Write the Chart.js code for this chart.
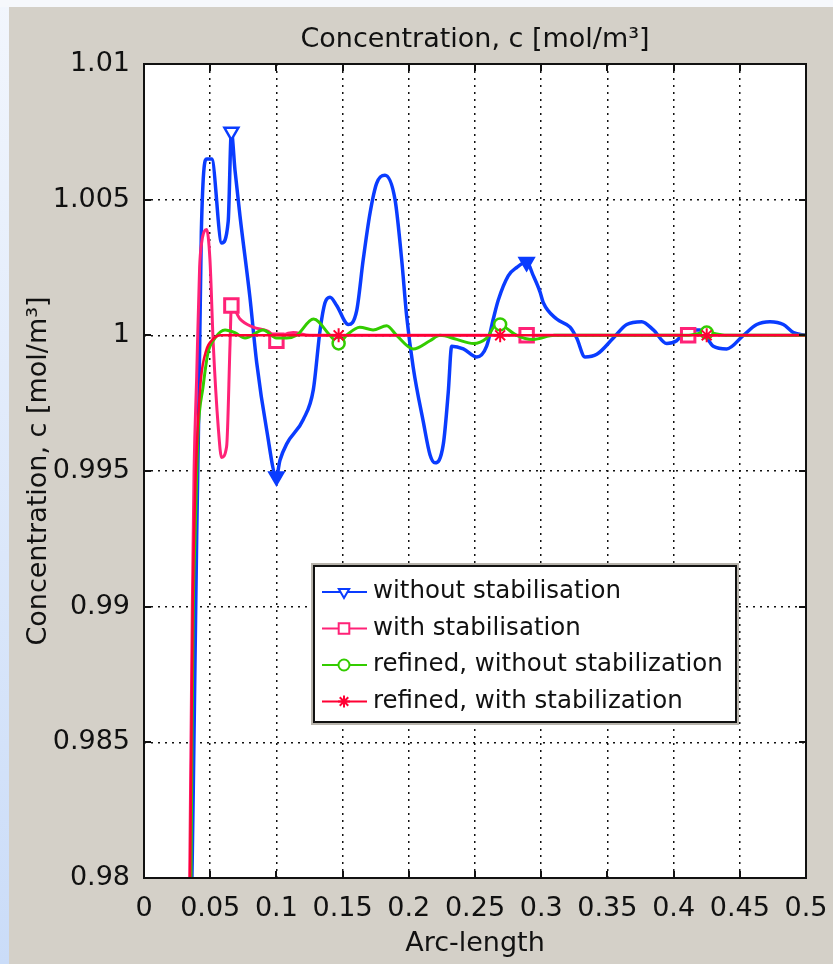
<!DOCTYPE html>
<html>
<head>
<meta charset="utf-8">
<script src="https://cdn.jsdelivr.net/npm/chart.js@4.4.1/dist/chart.umd.min.js"></script>
<style>
  html, body { margin: 0; padding: 0; background: #d4d0c8; }
  canvas { display: block; }
</style>
</head>
<body>
<canvas id="chart" width="833" height="964"></canvas>
<script>
// tick labels
const xTickLabels = ['0', '0.05', '0.1', '0.15', '0.2', '0.25', '0.3', '0.35', '0.4', '0.45', '0.5'];
const yTickLabels = ['0.98', '0.985', '0.99', '0.995', '1', '1.005', '1.01'];

// series names
const seriesNames = ['without stabilisation', 'with stabilisation', 'refined, without stabilization', 'refined, with stabilization'];

// without stabilisation
const blueX = [0.0362, 0.0372, 0.0385, 0.0398, 0.0415, 0.0433, 0.0474, 0.0511, 0.0587, 0.0636, 0.066, 0.0687, 0.0725, 0.080, 0.0851, 0.0927, 0.1, 0.1027, 0.1078, 0.1203, 0.1279, 0.133, 0.1367, 0.1405, 0.1455, 0.1543, 0.1606, 0.1656, 0.1707, 0.1757, 0.182, 0.1896, 0.1946, 0.1984, 0.2034, 0.211, 0.216, 0.2198, 0.2261, 0.2298, 0.2324, 0.2412, 0.2513, 0.2588, 0.2638, 0.2676, 0.2752, 0.2815, 0.289, 0.294, 0.2991, 0.3016, 0.3117, 0.3218, 0.3268, 0.3331, 0.342, 0.3545, 0.3646, 0.3759, 0.3847, 0.3948, 0.4023, 0.4099, 0.42, 0.43, 0.4401, 0.4527, 0.4628, 0.4728, 0.4829, 0.4905, 0.5];
const blueY = [0.980, 0.9832, 0.9879, 0.9926, 0.9976, 1.0038, 1.0065, 1.0065, 1.0034, 1.0042, 1.0075, 1.0061, 1.0044, 1.0014, 0.9990, 0.9965, 0.9948, 0.9954, 0.9960, 0.9969, 0.9980, 1.0002, 1.0012, 1.0014, 1.0011, 1.0004, 1.0009, 1.0028, 1.0045, 1.0056, 1.0059, 1.0050, 1.0028, 1.0007, 0.9988, 0.9968, 0.9956, 0.9953, 0.9960, 0.9979, 0.9996, 0.9995, 0.9992, 0.9996, 1.0006, 1.0013, 1.0022, 1.0025, 1.0027, 1.0022, 1.0016, 1.0012, 1.0006, 1.0003, 0.9999, 0.9992, 0.9993, 0.9999, 1.0004, 1.0005, 1.0002, 0.9997, 0.9998, 1.0002, 1.0002, 0.9996, 0.9995, 1.0, 1.0004, 1.0005, 1.0004, 1.0001, 1.0];
const blueMarks = [0.066, 0.1, 0.289];

// with stabilisation
const pinkX = [0.0345, 0.0355, 0.0365, 0.0378, 0.0398, 0.042, 0.0435, 0.0473, 0.0498, 0.0523, 0.0561, 0.0586, 0.0624, 0.065, 0.066, 0.0725, 0.0824, 0.0952, 0.1, 0.105, 0.1127, 0.125, 0.289, 0.411, 0.5];
const pinkY = [0.980, 0.985, 0.990, 0.995, 0.9985, 1.0025, 1.0034, 1.0039, 1.0028, 0.9997, 0.9966, 0.9955, 0.9959, 0.9997, 1.0011, 1.0006, 1.0003, 1.0001, 0.9998, 1.0, 1.0001, 1.0, 1.0, 1.0, 1.0];
const pinkMarks = [0.066, 0.1, 0.289, 0.411];

// refined, without stabilization
const greenX = [0.0355, 0.0362, 0.0372, 0.0385, 0.0398, 0.0408, 0.0446, 0.0483, 0.0536, 0.0612, 0.0687, 0.0763, 0.09, 0.1, 0.1078, 0.1153, 0.128, 0.1405, 0.147, 0.153, 0.163, 0.173, 0.1833, 0.1908, 0.2034, 0.216, 0.2236, 0.2362, 0.2487, 0.2588, 0.2664, 0.269, 0.2727, 0.2815, 0.294, 0.31, 0.41, 0.425, 0.44, 0.5];
const greenY = [0.980, 0.985, 0.990, 0.9925, 0.9948, 0.9964, 0.9981, 0.99935, 0.9999, 1.0002, 1.0001, 0.9999, 1.0002, 0.9999, 0.9999, 1.0, 1.0006, 1.0, 0.9997, 1.0, 1.0003, 1.0002, 1.00035, 1.0, 0.9995, 0.9998, 1.0, 0.99985, 0.9997, 0.9999, 1.0004, 1.0004, 1.0003, 1.0, 0.99985, 1.0, 1.0, 1.0001, 1.0, 1.0];
const greenMarks = [0.147, 0.269, 0.425];

// refined, with stabilization
const redX = [0.0348, 0.0358, 0.0368, 0.0385, 0.0405, 0.043, 0.047, 0.052, 0.058, 0.147, 0.269, 0.425, 0.5];
const redY = [0.980, 0.985, 0.990, 0.994, 0.9965, 0.9984, 0.99945, 0.99985, 1.0, 1.0, 1.0, 1.0, 1.0];
const redMarks = [0.147, 0.269, 0.425];

const FONT = 'DejaVu Sans';
const BLUE = '#0a3cff', PINK = '#ff2277', GREEN = '#33cc00', RED = '#ff0033';

const toPoints = (xs, ys) => xs.map((x, i) => ({ x: x, y: ys[i] }));
const markRadius = (marks, r) => ctx => (ctx.raw && marks.includes(ctx.raw.x)) ? r : 0;

const datasets = [
  {
    label: seriesNames[0], data: toPoints(blueX, blueY), borderColor: BLUE, borderWidth: 3.5,
    pointStyle: 'triangle', rotation: 180, pointRadius: markRadius(blueMarks, 8),
    pointBorderColor: BLUE, pointBorderWidth: 2.5,
    pointBackgroundColor: ctx => (ctx.raw && ctx.raw.y > 1.007) ? '#fff' : BLUE, order: 4
  },
  {
    label: seriesNames[1], data: toPoints(pinkX, pinkY), borderColor: PINK, borderWidth: 3,
    pointStyle: 'rect', pointRadius: markRadius(pinkMarks, 9.5),
    pointBorderColor: PINK, pointBorderWidth: 3, pointBackgroundColor: '#fff', order: 3
  },
  {
    label: seriesNames[2], data: toPoints(greenX, greenY), borderColor: GREEN, borderWidth: 3,
    pointStyle: 'circle', pointRadius: markRadius(greenMarks, 6),
    pointBorderColor: GREEN, pointBorderWidth: 2.5, pointBackgroundColor: '#fff', order: 2
  },
  {
    label: seriesNames[3], data: toPoints(redX, redY), borderColor: RED, borderWidth: 2.5,
    pointStyle: 'star', pointRadius: markRadius(redMarks, 7),
    pointBorderColor: RED, pointBorderWidth: 2, pointBackgroundColor: RED, order: 1
  }
];

// gray window background with the slide's light edges, white plot area
const backgroundPlugin = {
  id: 'background',
  beforeDraw(chart) {
    const { ctx, width, height, chartArea: a } = chart;
    ctx.save();
    ctx.fillStyle = '#d4d0c8';
    ctx.fillRect(0, 0, width, height);
    let g = ctx.createLinearGradient(0, 0, 0, height);
    g.addColorStop(0, '#f2f6fd');
    g.addColorStop(1, '#cadcf8');
    ctx.fillStyle = g;
    ctx.fillRect(0, 0, 9, height);
    ctx.fillStyle = '#f6f8fc';
    ctx.fillRect(0, 0, width, 7);
    ctx.fillStyle = '#fff';
    ctx.fillRect(a.left, a.top, a.right - a.left, a.bottom - a.top);
    ctx.restore();
  }
};

// box frame, inward ticks and the legend
const framePlugin = {
  id: 'frame',
  afterDatasetsDraw(chart) {
    const { ctx, chartArea: a, scales } = chart;
    ctx.save();
    ctx.strokeStyle = '#111';
    ctx.lineWidth = 2;
    ctx.beginPath();
    scales.x.ticks.forEach(t => {
      const px = Math.round(scales.x.getPixelForValue(t.value));
      ctx.moveTo(px, a.top); ctx.lineTo(px, a.top + 7);
      ctx.moveTo(px, a.bottom); ctx.lineTo(px, a.bottom - 7);
    });
    scales.y.ticks.forEach(t => {
      const py = Math.round(scales.y.getPixelForValue(t.value));
      ctx.moveTo(a.left, py); ctx.lineTo(a.left + 7, py);
      ctx.moveTo(a.right, py); ctx.lineTo(a.right - 7, py);
    });
    ctx.stroke();
    ctx.strokeRect(a.left, a.top, a.right - a.left, a.bottom - a.top);
    ctx.restore();
  },
  afterDraw(chart) {
    const { ctx } = chart;
    const bx = 313, by = 565, bw = 424, bh = 158;
    ctx.save();
    ctx.fillStyle = '#fff';
    ctx.fillRect(bx, by, bw, bh);
    ctx.strokeStyle = '#b8b4ac';
    ctx.lineWidth = 2;
    ctx.strokeRect(bx - 1, by - 1, bw + 2, bh + 2);
    ctx.strokeStyle = '#111';
    ctx.lineWidth = 2;
    ctx.strokeRect(bx + 1, by + 1, bw - 2, bh - 2);
    chart.data.datasets.forEach((ds, i) => {
      const y = by + 27 + i * 36.5;
      ctx.strokeStyle = ds.borderColor;
      ctx.lineWidth = 2;
      ctx.beginPath();
      ctx.moveTo(bx + 9, y); ctx.lineTo(bx + 54, y);
      ctx.stroke();
      ctx.fillStyle = i === 3 ? ds.borderColor : '#fff';
      ctx.strokeStyle = ds.borderColor;
      ctx.lineWidth = 2;
      Chart.helpers.drawPoint(ctx, {
        pointStyle: ds.pointStyle, rotation: ds.rotation || 0,
        radius: [6, 7.5, 5.5, 6][i], borderWidth: 2
      }, bx + 31, y);
      ctx.fillStyle = '#111';
      ctx.font = '24.5px "' + FONT + '"';
      ctx.textBaseline = 'middle';
      ctx.fillText(ds.label, bx + 60, y);
    });
    ctx.restore();
  }
};

new Chart(document.getElementById('chart'), {
  type: 'line',
  data: { datasets: datasets },
  plugins: [backgroundPlugin, framePlugin],
  options: {
    responsive: false,
    animation: false,
    devicePixelRatio: 1,
    layout: { padding: { left: 0, right: 27, top: 0, bottom: 0 } },
    elements: { line: { cubicInterpolationMode: 'monotone', fill: false } },
    plugins: {
      legend: { display: false },
      tooltip: { enabled: false },
      title: {
        display: true,
        fullSize: false,
        text: 'Concentration, c [mol/m³]',
        color: '#111',
        font: { family: FONT, size: 27, weight: 'normal', lineHeight: '32px' },
        padding: { top: 24, bottom: 8 }
      }
    },
    scales: {
      x: {
        type: 'linear', min: 0, max: 0.5,
        afterFit: s => { s.height = 86; s.paddingLeft = 0; s.paddingRight = 0; },
        border: { display: false, dash: [2, 5] },
        grid: { color: '#111', lineWidth: 1.5, drawTicks: false, tickLength: 0 },
        ticks: {
          stepSize: 0.05, padding: 15, color: '#111', maxRotation: 0, autoSkip: false,
          font: { family: FONT, size: 27 },
          callback: (v, i) => xTickLabels[i]
        },
        title: {
          display: true, text: 'Arc-length', color: '#111',
          font: { family: FONT, size: 27, lineHeight: '32px' },
          padding: { top: 0, bottom: 4 }
        }
      },
      y: {
        type: 'linear', min: 0.98, max: 1.01,
        afterFit: s => { s.width = 144; s.paddingTop = 0; s.paddingBottom = 0; },
        border: { display: false, dash: [2, 5] },
        grid: { color: '#111', lineWidth: 1.5, drawTicks: false, tickLength: 0 },
        ticks: {
          stepSize: 0.005, padding: 14, color: '#111', autoSkip: false,
          font: { family: FONT, size: 27 },
          callback: (v, i) => yTickLabels[i]
        },
        title: {
          display: true, text: 'Concentration, c [mol/m³]', color: '#111',
          font: { family: FONT, size: 27, lineHeight: '32px' },
          padding: { top: 23, bottom: 0 }
        }
      }
    }
  }
});
</script>
</body>
</html>
